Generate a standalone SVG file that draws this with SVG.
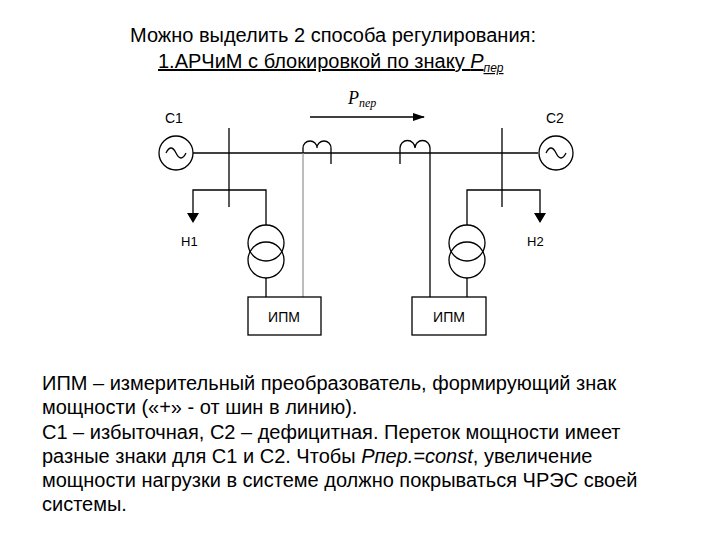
<svg xmlns="http://www.w3.org/2000/svg" width="720" height="540" viewBox="0 0 720 540">
<style>
.l{stroke:#000;stroke-width:1.3;fill:none}
.g{stroke:#999;stroke-width:1.3;fill:none}
.t{font-family:"Liberation Sans",Arial,sans-serif;fill:#000}
</style>
<defs><marker id="ah" markerWidth="12" markerHeight="8" refX="11" refY="4" orient="auto" markerUnits="userSpaceOnUse"><path d="M0,0L12,4L0,8z"/></marker></defs>
<rect width="720" height="540" fill="#fff"/>
<text class="t" x="130" y="42" font-size="20">Можно выделить 2 способа регулирования:</text>
<text class="t" x="158" y="68" font-size="20" text-decoration="underline">1.АРЧиМ с блокировкой по знаку <tspan font-style="italic" font-size="20">Р</tspan><tspan font-style="italic" font-size="12" dy="4">пер</tspan></text>
<g id="connectors">
<path class="l" d="M193,153H538"/>
<path class="l" d="M310,117H424" marker-end="url(#ah)"/>
<path class="l" d="M229,128V207M502,128V207"/>
<path class="l" d="M229,190H193V213M229,190H266V225M266,278V297"/>
<path class="l" d="M502,190H540V213M502,190H467V225M467,278V297"/>
<path class="l" d="M303,153V148a7,7 0 0 1 14,0a7,7 0 0 1 14,0V164"/>
<path class="l" d="M400,164V148a7.5,7.5 0 0 1 15,0a7.5,7.5 0 0 1 15,0V153"/>
<path class="g" d="M303,153V297"/>
<path class="l" d="M430,153V297" stroke-width="1"/>
<path d="M187,213l6,10l6,-10z M534,213l6,10l6,-10z"/>
</g>
<g id="C1"><circle class="l" cx="176" cy="153" r="17"/><path class="l" d="M166,153q5,-10 10,0t10,0"/><text class="t" x="165" y="123" font-size="14">С1</text></g>
<g id="C2"><circle class="l" cx="556" cy="153" r="17"/><path class="l" d="M546,153q5,-10 10,0t10,0"/><text class="t" x="546" y="123" font-size="14">С2</text></g>
<text class="t" x="181" y="246" font-size="13">Н1</text>
<text class="t" x="527" y="246" font-size="13">Н2</text>
<text x="348" y="104" font-family="Liberation Serif,serif" font-style="italic" font-size="18">P<tspan font-size="12" dy="3">пер</tspan></text>
<g id="T1"><circle class="l" cx="266" cy="243" r="18"/><circle class="l" cx="266" cy="260" r="18"/></g>
<g id="T2"><circle class="l" cx="467" cy="243" r="18"/><circle class="l" cx="467" cy="260" r="18"/></g>
<g id="IPM1"><rect class="l" x="248" y="297" width="73" height="38"/><text class="t" x="284" y="322" font-size="14" text-anchor="middle">ИПМ</text></g>
<g id="IPM2"><rect class="l" x="412" y="297" width="74" height="38"/><text class="t" x="449" y="322" font-size="14" text-anchor="middle">ИПМ</text></g>
<g class="t" font-size="20">
<text x="42" y="390">ИПМ – измерительный преобразователь, формирующий знак</text>
<text x="42" y="414">мощности («+» - от шин в линию).</text>
<text x="42" y="439">С1 – избыточная, С2 – дефицитная. Переток мощности имеет</text>
<text x="42" y="463">разные знаки для С1 и С2. Чтобы <tspan font-style="italic">Рпер.=const</tspan>, увеличение</text>
<text x="42" y="487">мощности нагрузки в системе должно покрываться ЧРЭС своей</text>
<text x="42" y="511">системы.</text>
</g>
</svg>
